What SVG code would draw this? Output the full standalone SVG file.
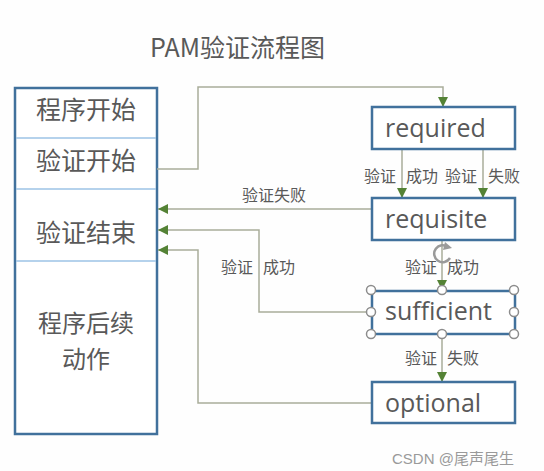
<svg xmlns="http://www.w3.org/2000/svg" width="544" height="471" viewBox="0 0 544 471">
<defs>
<style>
.cjk{font-family:"Noto Sans CJK SC","Noto Sans",sans-serif;fill:#595959}
.big{font-size:25px;text-anchor:middle}
.lbl{font-size:16px}
.lat{font-family:"Open Sans","Noto Sans",sans-serif;font-size:25px;fill:#595959}
.box{fill:#ffffff;stroke:#41719c;stroke-width:2.5}
.div{stroke:#9dc3e6;stroke-width:1.5}
.con{fill:none;stroke:#a9ad9a;stroke-width:1.5}
.hdl{fill:#ffffff;stroke:#8c8c8c;stroke-width:1.5}
</style>
<marker id="ah" viewBox="0 0 10 10" refX="10" refY="5" markerWidth="10" markerHeight="10" markerUnits="userSpaceOnUse" orient="auto">
<path d="M0,0 L10,5 L0,10 z" fill="#548235"/>
</marker>
</defs>
<rect width="544" height="471" fill="#fefefe"/>
<text class="cjk" x="150" y="57" font-size="25" fill="#505050">PAM验证流程图</text>

<g id="program">
<rect class="box" x="15" y="88" width="142" height="346"/>
<line class="div" x1="16" y1="138" x2="156" y2="138"/>
<line class="div" x1="16" y1="189" x2="156" y2="189"/>
<line class="div" x1="16" y1="261" x2="156" y2="261"/>
<text class="cjk big" x="86" y="118.5">程序开始</text>
<text class="cjk big" x="86" y="169.5">验证开始</text>
<text class="cjk big" x="86" y="241.5">验证结束</text>
<text class="cjk big" x="86" y="332" font-size="24" style="font-size:24px">程序后续</text>
<text class="cjk big" x="86" y="367.5" font-size="24" style="font-size:24px">动作</text>
</g>

<g id="connectors">
<path class="con" d="M157,169 H198 V87 H443 V107" marker-end="url(#ah)"/>
<path class="con" d="M402,149 V198" marker-end="url(#ah)"/>
<path class="con" d="M483,149 V198" marker-end="url(#ah)"/>
<path class="con" d="M372,209 H158" marker-end="url(#ah)"/>
<path class="con" d="M371,312 H259 V230 H158" marker-end="url(#ah)"/>
<path class="con" d="M372,403 H198 V250 H158" marker-end="url(#ah)"/>
<path class="con" d="M442,240 V290" marker-end="url(#ah)"/>
<path class="con" d="M442,334 V382" marker-end="url(#ah)"/>
<text class="cjk lbl" x="364" y="182">验证</text>
<text class="cjk lbl" x="406" y="182">成功</text>
<text class="cjk lbl" x="445" y="182">验证</text>
<text class="cjk lbl" x="488" y="182">失败</text>
<text class="cjk lbl" x="242" y="201">验证失败</text>
<text class="cjk lbl" x="221" y="273">验证</text>
<text class="cjk lbl" x="263" y="273">成功</text>
<text class="cjk lbl" x="405" y="273">验证</text>
<text class="cjk lbl" x="447" y="273">成功</text>
<text class="cjk lbl" x="405" y="364">验证</text>
<text class="cjk lbl" x="447" y="364">失败</text>
</g>

<g id="required">
<rect class="box" x="372" y="107" width="143" height="42"/>
<text class="lat" x="385" y="137">required</text>
</g>
<g id="requisite">
<rect class="box" x="372" y="198" width="143" height="42"/>
<text class="lat" x="385" y="228">requisite</text>
</g>
<g id="sufficient">
<rect class="box" x="372" y="291" width="143" height="43"/>
<text class="lat" x="385" y="320">sufficient</text>
<g>
<circle class="hdl" cx="371" cy="290" r="4.5"/>
<circle class="hdl" cx="442" cy="290" r="4.5"/>
<circle class="hdl" cx="514" cy="290" r="4.5"/>
<circle class="hdl" cx="371" cy="312" r="4.5"/>
<circle class="hdl" cx="514" cy="312" r="4.5"/>
<circle class="hdl" cx="371" cy="334" r="4.5"/>
<circle class="hdl" cx="442" cy="334" r="4.5"/>
<circle class="hdl" cx="514" cy="334" r="4.5"/>
<path d="M450,258 A8.5,8.5 0 1 1 448,247" fill="none" stroke="#9a9a9a" stroke-width="2.5"/>
<path d="M445,242 L452,248 L443,250 z" fill="#9a9a9a"/>
</g>
</g>
<g id="optional">
<rect class="box" x="372" y="382" width="143" height="41"/>
<text class="lat" x="385" y="412">optional</text>
</g>
<text x="392" y="464" font-family="'Liberation Sans','Noto Sans CJK SC',sans-serif" font-size="15" fill="#9a9a9a">CSDN @尾声尾生</text>
</svg>
